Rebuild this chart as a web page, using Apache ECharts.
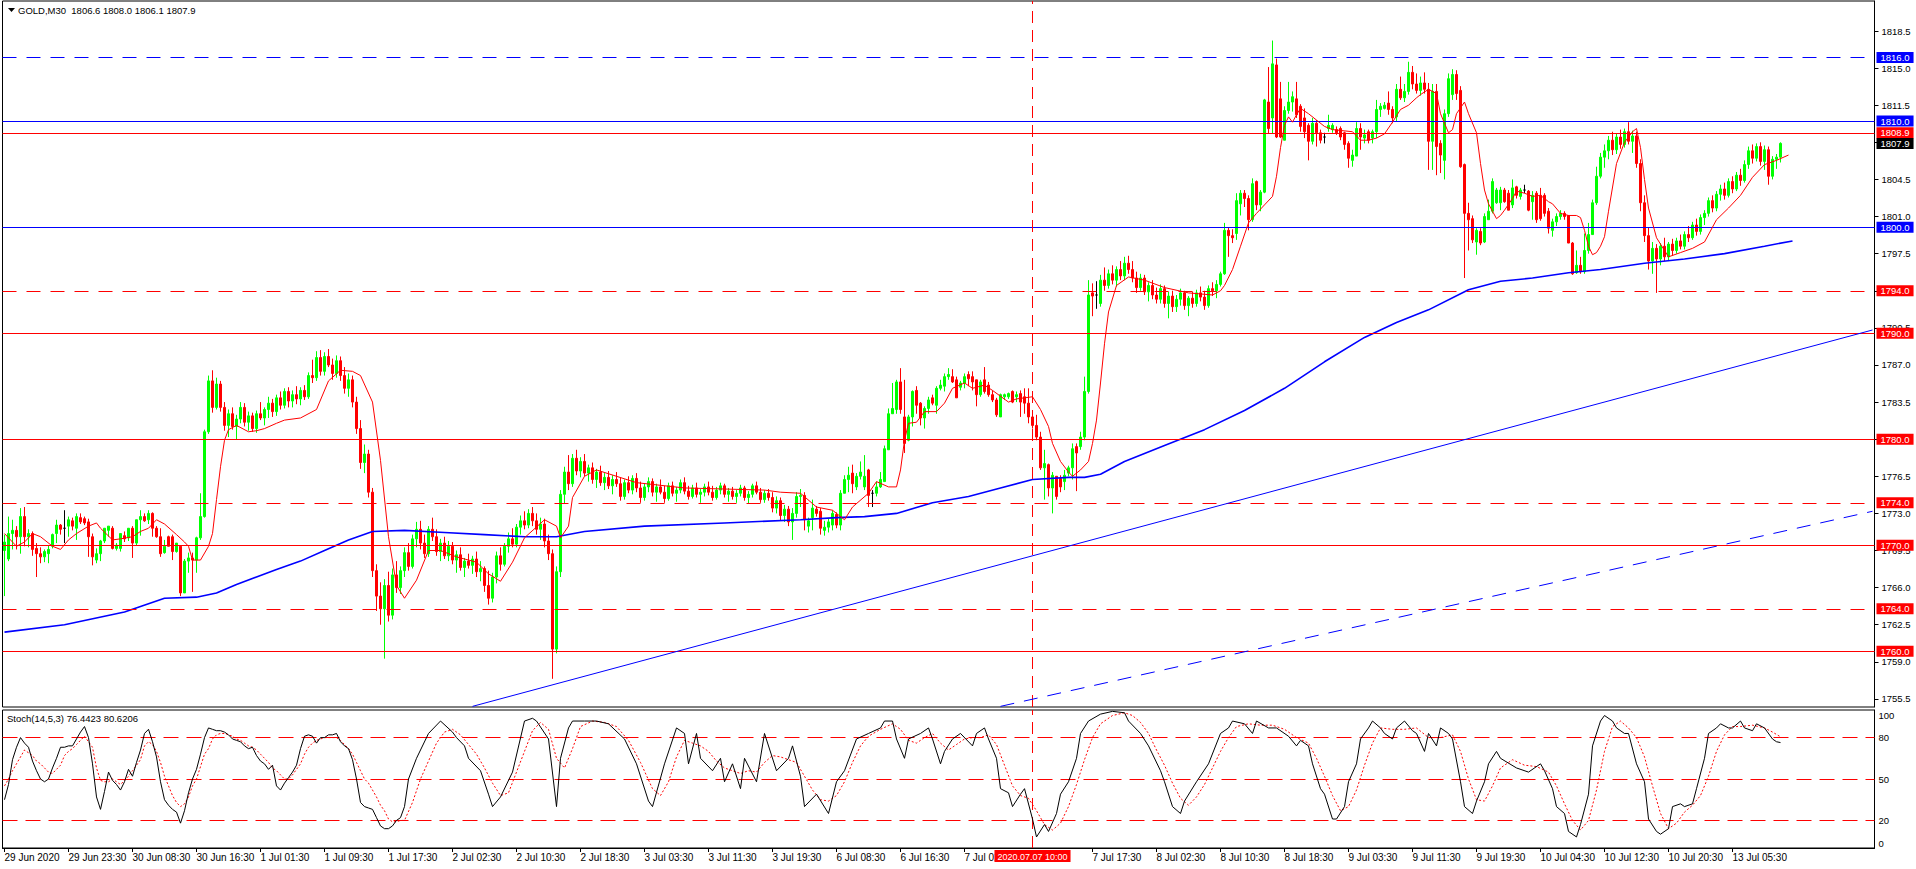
<!DOCTYPE html>
<html><head><meta charset="utf-8">
<script src="https://cdn.jsdelivr.net/npm/echarts@6/dist/echarts.min.js"></script>
<style>html,body{margin:0;padding:0;background:#fff;}#c{width:1916px;height:869px;}</style>
</head><body><div id="c"></div>
<script>
// ---------- DATA ----------
const symbolName = 'GOLD,M30';
const tickLabels = ['29 Jun 2020','29 Jun 23:30','30 Jun 08:30','30 Jun 16:30','1 Jul 01:30','1 Jul 09:30','1 Jul 17:30','2 Jul 02:30','2 Jul 10:30','2 Jul 18:30','3 Jul 03:30','3 Jul 11:30','3 Jul 19:30','6 Jul 08:30','6 Jul 16:30','7 Jul 01:30','','7 Jul 17:30','8 Jul 02:30','8 Jul 10:30','8 Jul 18:30','9 Jul 03:30','9 Jul 11:30','9 Jul 19:30','10 Jul 04:30','10 Jul 12:30','10 Jul 20:30','13 Jul 05:30'];
const priceTicks = [1818.5,1815.0,1811.5,1808.0,1804.5,1801.0,1797.5,1794.0,1790.5,1787.0,1783.5,1780.0,1776.5,1773.0,1769.5,1766.0,1762.5,1759.0,1755.5];
const stochTicks = [0,20,50,80,100];
const stochLevels = [80,50,20];
const blueLevels = [1816.0,1810.0,1800.0];
const redLevels = [1808.9,1794.0,1790.0,1780.0,1774.0,1770.0,1764.0,1760.0];
const lastPrice = 1807.9;
const markedBar = 257;
const markedBarLabel = '2020.07.07 10:00';
const trendSolid = [[117,1754.8],[467,1790.3]];
const trendDashed = [[249,1754.8],[467,1773.2]];
const stochTitle = 'Stoch(14,5,3) 76.4423 80.6206';
// candles: [open, high, low, close]
const candles = [
[1769.5,1771.0,1765.2,1770.3],[1768.7,1772.7,1768.5,1771.1],[1771.1,1772.4,1769.6,1771.4],[1771.4,1771.8,1769.6,1770.8],[1770.8,1773.5,1769.2,1772.7],
[1772.7,1773.6,1769.9,1770.8],[1770.8,1771.5,1769.8,1771.1],[1771.1,1771.3,1769.0,1769.6],[1769.7,1770.2,1767.0,1769.2],[1769.2,1769.8,1768.3,1768.9],
[1768.9,1769.6,1768.4,1769.4],[1769.2,1770.0,1768.3,1769.6],[1769.9,1771.1,1769.7,1771.0],[1771.1,1772.4,1770.2,1771.9],[1771.9,1772.0,1771.0,1771.5],
[1771.6,1773.3,1770.2,1771.6],[1771.8,1772.7,1770.8,1772.4],[1772.3,1772.6,1771.4,1771.8],[1771.6,1773.0,1770.5,1772.7],[1772.6,1773.0,1772.0,1772.2],
[1772.5,1772.7,1771.9,1772.1],[1772.2,1772.5,1768.9,1770.8],[1770.8,1771.1,1768.1,1768.9],[1768.6,1769.7,1768.3,1769.2],[1769.2,1770.5,1768.5,1770.4],
[1770.4,1771.6,1770.2,1771.6],[1771.4,1771.8,1770.8,1771.8],[1771.6,1771.8,1769.6,1769.7],[1769.7,1770.2,1769.5,1770.0],[1769.7,1771.1,1769.4,1771.1],
[1770.9,1771.3,1770.3,1770.6],[1770.7,1771.6,1770.4,1771.6],[1771.6,1771.8,1768.8,1770.2],[1770.2,1772.4,1770.0,1772.4],[1772.4,1773.3,1770.9,1772.7],
[1772.7,1773.0,1772.2,1772.3],[1772.4,1773.3,1772.0,1773.0],[1773.0,1773.1,1770.8,1771.6],[1771.6,1771.8,1770.7,1770.8],[1770.8,1771.6,1768.9,1769.2],
[1769.3,1770.5,1769.2,1769.9],[1770.8,1770.9,1769.9,1769.9],[1770.8,1771.0,1768.6,1769.4],[1769.4,1770.2,1769.3,1770.2],[1769.9,1770.0,1765.2,1765.5],
[1765.5,1768.7,1765.5,1768.5],[1768.5,1769.3,1767.4,1768.8],[1768.8,1769.3,1765.6,1768.6],[1768.6,1770.8,1767.4,1770.7],[1770.7,1774.9,1770.5,1772.7],
[1772.7,1780.9,1772.6,1780.7],[1780.7,1786.0,1780.5,1785.5],[1785.5,1786.5,1782.5,1783.0],[1783.0,1785.8,1782.8,1785.2],[1785.2,1785.5,1782.6,1783.0],
[1783.0,1783.5,1780.8,1781.3],[1781.3,1782.8,1780.2,1782.4],[1782.4,1783.0,1780.9,1781.2],[1781.2,1782.3,1780.0,1781.9],[1781.9,1783.5,1781.5,1783.0],
[1783.0,1783.4,1781.2,1781.6],[1781.6,1782.6,1780.8,1782.2],[1782.2,1782.5,1780.7,1781.0],[1781.0,1782.7,1780.6,1782.4],[1782.4,1783.5,1781.8,1782.0],
[1782.0,1783.0,1781.3,1782.8],[1782.8,1784.0,1782.0,1783.4],[1783.4,1783.8,1782.1,1782.6],[1782.6,1784.2,1782.2,1783.9],[1783.9,1784.5,1782.8,1783.2],
[1783.2,1784.8,1782.9,1784.5],[1784.5,1784.9,1783.0,1783.6],[1783.6,1784.6,1783.0,1784.2],[1784.2,1785.0,1783.3,1783.8],[1783.8,1784.9,1783.2,1784.6],
[1784.6,1785.1,1783.7,1784.0],[1784.0,1786.3,1783.8,1786.0],[1786.0,1787.5,1785.3,1785.8],[1785.8,1788.3,1785.5,1787.7],[1787.7,1788.4,1786.0,1786.4],
[1786.4,1788.2,1786.0,1787.8],[1787.8,1788.5,1786.8,1787.0],[1787.0,1787.6,1785.6,1786.2],[1786.2,1787.9,1785.8,1787.4],[1787.4,1787.8,1785.5,1786.0],
[1786.0,1786.8,1784.3,1784.8],[1784.8,1786.2,1784.0,1785.6],[1785.6,1786.0,1783.0,1783.5],[1783.5,1784.0,1780.5,1781.0],[1781.0,1781.8,1777.2,1777.8],
[1777.8,1779.5,1776.8,1778.6],[1778.6,1779.0,1774.5,1775.0],[1775.0,1775.4,1767.0,1767.6],[1767.6,1768.2,1763.8,1765.2],[1765.2,1766.5,1762.5,1764.0],
[1764.0,1766.8,1759.3,1766.2],[1766.2,1767.5,1762.8,1763.4],[1763.4,1767.8,1763.0,1767.2],[1767.2,1768.5,1765.5,1766.0],[1766.0,1768.0,1765.4,1767.6],
[1767.6,1769.8,1767.0,1769.3],[1769.3,1770.2,1767.6,1768.0],[1768.0,1771.0,1767.8,1770.6],[1770.6,1772.2,1769.8,1771.5],[1771.5,1772.3,1769.6,1770.2],
[1770.2,1771.0,1768.8,1769.2],[1769.2,1771.8,1768.9,1771.5],[1771.5,1772.6,1770.4,1770.8],[1770.8,1771.5,1769.0,1769.4],[1769.4,1770.6,1768.5,1770.2],
[1770.2,1770.8,1768.7,1769.0],[1769.0,1770.4,1768.5,1769.9],[1769.9,1770.3,1768.2,1768.6],[1768.6,1769.5,1767.4,1769.1],[1769.1,1769.8,1767.6,1767.9],
[1767.9,1768.8,1767.0,1768.5],[1768.5,1769.2,1767.8,1768.1],[1768.1,1769.0,1767.3,1768.7],[1768.7,1769.4,1767.0,1767.5],[1767.5,1768.5,1766.6,1767.8],
[1767.8,1768.0,1765.6,1766.2],[1766.2,1767.6,1764.4,1765.0],[1765.0,1767.4,1764.6,1767.0],[1767.0,1769.4,1766.4,1769.0],[1769.0,1769.8,1767.6,1768.2],
[1768.2,1770.2,1768.0,1769.9],[1769.9,1771.2,1769.3,1770.6],[1770.6,1771.6,1769.8,1770.1],[1770.1,1772.0,1769.8,1771.7],[1771.7,1772.8,1771.0,1772.3],
[1772.3,1773.2,1771.5,1771.9],[1771.9,1773.4,1771.6,1773.0],[1773.0,1773.6,1771.8,1772.3],[1772.3,1773.0,1771.0,1771.5],[1771.5,1772.6,1770.5,1772.0],
[1772.0,1772.5,1769.8,1770.4],[1770.4,1771.0,1768.6,1769.2],[1769.2,1769.6,1757.4,1760.2],[1760.2,1768.0,1759.8,1767.5],[1767.5,1775.2,1767.0,1774.8],
[1774.8,1777.4,1773.9,1776.9],[1776.9,1778.5,1775.2,1775.8],[1775.8,1778.6,1775.5,1778.2],[1778.2,1779.0,1776.6,1777.0],[1777.0,1778.3,1776.4,1777.9],
[1777.9,1778.6,1776.5,1776.8],[1776.8,1777.6,1776.0,1777.3],[1777.3,1777.8,1775.8,1776.2],[1776.2,1777.2,1775.4,1776.9],[1776.9,1777.5,1775.6,1775.9],
[1775.9,1776.8,1775.2,1776.4],[1776.4,1777.0,1775.3,1775.6],[1775.6,1776.6,1774.8,1776.2],[1776.2,1776.9,1775.5,1775.8],[1775.8,1776.4,1774.2,1774.6],
[1774.6,1776.2,1774.3,1775.9],[1775.9,1776.5,1774.9,1775.2],[1775.2,1776.6,1774.8,1776.3],[1776.3,1776.8,1775.0,1775.4],[1775.4,1776.0,1774.0,1774.5],
[1774.5,1775.8,1774.2,1775.5],[1775.5,1776.4,1775.0,1776.0],[1776.0,1776.3,1774.6,1775.0],[1775.0,1775.8,1774.1,1775.5],[1775.5,1776.2,1774.8,1775.0],
[1775.0,1775.6,1774.0,1774.4],[1774.4,1775.9,1774.2,1775.6],[1775.6,1776.0,1774.6,1774.9],[1774.9,1775.5,1774.1,1775.2],[1775.2,1776.2,1774.9,1775.9],
[1775.9,1776.4,1774.8,1775.1],[1775.1,1775.6,1774.3,1774.6],[1774.6,1775.7,1774.4,1775.4],[1775.4,1775.9,1774.5,1774.8],[1774.8,1775.3,1774.0,1775.0],
[1775.0,1775.8,1774.6,1775.5],[1775.5,1776.0,1774.7,1775.0],[1775.0,1775.6,1774.2,1774.5],[1774.5,1775.5,1774.3,1775.2],[1775.2,1775.9,1774.8,1775.6],
[1775.6,1775.8,1774.5,1774.8],[1774.8,1775.4,1774.1,1775.1],[1775.1,1775.5,1774.3,1774.6],[1774.6,1775.2,1774.0,1774.9],[1774.9,1775.7,1774.6,1775.4],
[1775.4,1775.6,1774.2,1774.5],[1774.5,1775.1,1773.9,1774.8],[1774.8,1775.8,1774.5,1775.6],[1775.6,1776.0,1774.8,1775.0],[1775.0,1775.4,1774.0,1774.3],
[1774.3,1775.2,1774.0,1774.9],[1774.9,1775.3,1774.2,1774.5],[1774.5,1775.0,1773.1,1773.5],[1773.5,1774.6,1773.0,1774.2],[1774.2,1774.5,1772.3,1772.8],
[1772.8,1773.8,1772.2,1773.4],[1773.4,1773.7,1771.8,1772.2],[1772.2,1773.5,1770.5,1773.0],[1773.0,1775.0,1772.6,1774.6],[1774.6,1775.3,1773.6,1774.7],
[1774.7,1775.0,1771.4,1772.4],[1771.8,1772.6,1771.2,1772.3],[1772.6,1774.3,1771.4,1773.5],[1773.4,1773.7,1772.7,1773.0],[1773.2,1773.5,1771.0,1771.6],
[1771.4,1772.3,1770.9,1771.7],[1771.7,1772.5,1771.2,1772.2],[1771.9,1773.3,1771.4,1773.0],[1772.9,1773.1,1771.6,1771.9],[1771.9,1775.2,1771.4,1774.9],
[1774.9,1776.6,1774.9,1776.2],[1776.2,1777.4,1775.0,1776.6],[1776.8,1777.6,1774.9,1775.8],[1775.5,1776.8,1775.2,1776.5],[1776.5,1777.9,1776.2,1776.9],
[1775.5,1778.5,1775.2,1776.5],[1777.1,1777.2,1773.6,1774.7],[1774.9,1775.2,1773.6,1774.9],[1774.9,1776.0,1774.6,1775.5],[1775.5,1776.9,1775.4,1776.2],
[1776.0,1779.4,1776.0,1779.1],[1779.0,1782.9,1779.0,1782.4],[1782.4,1785.3,1782.4,1782.9],[1782.8,1785.6,1782.4,1785.4],[1785.4,1786.7,1782.4,1782.8],
[1782.1,1785.6,1778.7,1779.6],[1779.9,1782.3,1779.8,1782.1],[1782.1,1784.6,1781.2,1784.5],[1784.6,1785.0,1782.4,1783.2],[1783.4,1783.5,1781.3,1782.0],
[1782.0,1783.1,1781.0,1782.9],[1782.9,1784.0,1782.4,1783.7],[1783.9,1784.2,1783.2,1783.4],[1783.2,1785.0,1782.4,1784.8],[1784.8,1785.6,1784.6,1785.1],
[1785.0,1786.2,1784.5,1785.9],[1785.9,1786.7,1785.6,1786.1],[1785.9,1786.6,1785.3,1785.4],[1785.6,1785.9,1783.9,1783.9],[1784.9,1785.5,1784.6,1785.3],
[1785.3,1786.2,1784.8,1785.9],[1786.1,1786.4,1785.0,1785.7],[1785.9,1786.4,1784.6,1785.4],[1785.6,1785.6,1783.1,1784.2],[1784.2,1785.6,1784.0,1785.4],
[1785.6,1786.8,1784.3,1784.5],[1785.1,1785.4,1784.0,1784.2],[1784.2,1784.6,1783.5,1783.7],[1783.7,1783.9,1782.1,1782.3],[1782.1,1784.3,1782.1,1784.2],
[1784.0,1784.3,1783.7,1784.2],[1784.0,1784.4,1783.8,1784.3],[1784.5,1784.6,1783.4,1783.5],[1784.0,1784.5,1783.5,1784.2],[1784.3,1784.6,1782.1,1783.5],
[1784.0,1784.8,1782.4,1783.4],[1783.4,1784.8,1781.5,1782.1],[1782.1,1782.4,1781.0,1781.3],[1781.3,1782.3,1779.9,1780.2],[1780.2,1780.7,1777.1,1777.3],
[1777.3,1779.0,1774.3,1777.7],[1777.6,1777.7,1774.6,1775.4],[1775.4,1776.9,1773.0,1776.6],[1776.5,1776.5,1774.3,1774.6],[1776.3,1776.6,1775.0,1775.5],
[1776.0,1777.1,1775.2,1776.6],[1776.8,1777.5,1776.5,1777.3],[1777.3,1779.6,1776.2,1779.1],[1779.3,1779.6,1775.1,1778.7],[1779.3,1780.7,1779.0,1780.2],
[1780.2,1785.9,1779.9,1784.5],[1784.5,1795.0,1784.3,1793.6],[1793.8,1794.7,1791.6,1793.5],[1793.6,1794.9,1792.3,1793.6],[1792.8,1795.5,1792.5,1795.0],
[1795.0,1796.2,1794.0,1794.5],[1794.5,1796.0,1794.2,1795.6],[1795.6,1796.4,1794.6,1795.0],[1795.0,1796.3,1794.4,1796.0],[1796.0,1796.8,1795.0,1795.4],
[1795.4,1797.2,1795.0,1796.6],[1796.6,1797.3,1795.6,1796.0],[1796.0,1796.8,1794.8,1795.2],[1795.2,1795.8,1793.8,1794.3],[1794.3,1795.6,1794.0,1795.2],
[1795.2,1795.5,1793.6,1793.9],[1793.9,1794.8,1793.0,1794.5],[1794.5,1795.0,1793.2,1793.6],[1793.6,1794.3,1792.8,1793.2],[1793.2,1794.6,1792.8,1794.2],
[1794.2,1794.5,1792.4,1792.8],[1792.8,1793.9,1791.4,1793.5],[1793.5,1794.0,1792.0,1792.5],[1792.5,1793.6,1792.0,1793.2],[1793.2,1794.2,1792.6,1793.8],
[1793.8,1794.0,1792.2,1792.6],[1792.6,1793.5,1791.6,1793.3],[1793.3,1793.9,1792.4,1792.8],[1792.8,1794.1,1792.5,1793.8],[1793.8,1794.4,1793.0,1793.4],
[1793.4,1794.0,1792.2,1792.6],[1792.6,1794.5,1792.4,1794.2],[1794.2,1794.8,1793.5,1794.0],[1794.0,1795.0,1793.3,1794.6],[1794.6,1795.8,1794.4,1795.6],
[1795.6,1800.4,1795.5,1799.7],[1799.7,1800.0,1797.2,1799.2],[1799.2,1799.8,1798.5,1799.0],[1799.4,1803.2,1798.8,1802.5],[1802.2,1803.5,1801.1,1803.2],
[1803.2,1803.5,1801.9,1802.7],[1802.7,1803.0,1799.7,1800.7],[1800.7,1804.6,1800.5,1804.1],[1804.3,1804.4,1801.6,1802.1],[1802.1,1803.5,1801.5,1803.3],
[1803.3,1812.1,1803.2,1812.0],[1811.8,1815.1,1808.8,1809.3],[1810.3,1817.6,1808.8,1815.4],[1815.3,1815.9,1808.4,1808.5],[1812.1,1813.7,1808.4,1808.5],
[1808.2,1811.4,1808.2,1811.0],[1811.0,1813.7,1810.7,1811.8],[1811.8,1812.8,1810.9,1812.3],[1812.1,1813.7,1810.3,1810.6],[1811.4,1811.6,1809.0,1809.5],
[1810.3,1811.2,1808.4,1809.0],[1809.6,1809.8,1806.3,1808.1],[1808.1,1810.3,1807.8,1809.8],[1809.8,1810.1,1807.6,1808.9],[1808.9,1809.2,1807.9,1808.2],
[1808.5,1808.9,1807.9,1808.5],[1809.3,1810.6,1809.0,1809.6],[1809.2,1809.8,1808.9,1809.6],[1809.2,1809.5,1808.7,1808.9],[1809.3,1809.5,1808.2,1808.5],
[1808.9,1809.0,1807.3,1807.8],[1807.9,1808.1,1805.6,1806.5],[1806.3,1807.3,1805.7,1806.8],[1806.7,1809.9,1806.7,1809.3],[1809.3,1809.8,1807.3,1808.5],
[1808.4,1809.2,1807.9,1808.7],[1809.0,1809.2,1807.9,1808.2],[1808.4,1809.2,1807.9,1809.0],[1809.0,1812.0,1808.4,1811.1],[1811.1,1811.7,1810.4,1811.4],
[1811.2,1811.8,1811.1,1811.5],[1811.7,1812.8,1810.6,1811.1],[1811.1,1811.4,1809.8,1810.3],[1810.4,1813.5,1810.0,1813.0],[1813.0,1814.2,1812.0,1812.2],
[1812.2,1813.5,1811.8,1812.8],[1812.8,1815.6,1812.5,1814.6],[1814.6,1815.2,1813.0,1813.5],[1813.5,1814.5,1812.6,1812.9],[1812.9,1814.2,1812.4,1813.6],
[1813.6,1814.6,1812.6,1813.0],[1813.0,1813.6,1805.4,1808.1],[1808.1,1813.5,1805.4,1812.8],[1812.8,1813.5,1804.9,1807.6],[1807.9,1808.2,1805.1,1806.8],
[1806.3,1811.1,1804.5,1810.7],[1810.7,1814.5,1810.4,1814.0],[1812.5,1814.9,1812.0,1814.4],[1814.4,1814.8,1812.0,1812.6],[1812.9,1813.3,1805.6,1805.7],
[1805.9,1806.0,1795.2,1801.3],[1801.3,1802.3,1797.8,1800.7],[1800.8,1801.1,1798.5,1798.8],[1798.6,1799.9,1797.4,1799.7],[1799.6,1799.9,1798.3,1798.5],
[1798.6,1801.3,1798.5,1801.0],[1800.7,1802.6,1800.7,1801.5],[1801.5,1804.6,1801.3,1804.3],[1802.3,1803.7,1802.2,1803.5],[1802.3,1803.8,1801.6,1803.5],
[1803.5,1803.7,1802.3,1802.4],[1803.2,1803.5,1801.6,1801.6],[1802.1,1804.5,1801.8,1803.7],[1803.8,1803.9,1802.7,1803.0],[1802.9,1803.7,1802.6,1803.5],
[1803.5,1804.0,1803.2,1803.5],[1803.4,1803.5,1801.5,1801.6],[1802.4,1803.4,1800.7,1803.0],[1803.2,1803.4,1800.4,1800.7],[1803.0,1803.7,1800.6,1800.8],
[1803.0,1803.2,1801.0,1801.3],[1801.5,1801.8,1799.4,1799.9],[1799.7,1800.8,1799.1,1800.5],[1800.5,1801.3,1800.1,1801.0],[1801.0,1801.6,1800.7,1801.3],
[1801.3,1801.5,1800.7,1801.0],[1801.1,1801.1,1798.5,1798.5],[1798.5,1798.6,1795.5,1795.6],[1795.7,1797.8,1795.6,1796.4],[1796.4,1797.2,1795.6,1795.8],
[1795.8,1799.4,1795.6,1797.8],[1797.8,1800.4,1797.5,1799.3],[1799.3,1802.6,1799.3,1802.3],[1802.3,1805.7,1802.1,1804.8],[1804.8,1807.0,1804.6,1806.6],
[1806.6,1807.8,1805.6,1807.2],[1807.2,1808.6,1806.4,1808.2],[1808.2,1809.0,1806.8,1807.3],[1807.3,1808.8,1806.9,1808.5],[1808.5,1809.2,1807.4,1807.8],
[1807.8,1809.3,1807.5,1809.0],[1809.0,1809.9,1807.8,1808.1],[1808.1,1809.1,1807.0,1808.6],[1808.6,1809.0,1805.6,1806.0],[1806.0,1806.4,1801.5,1802.3],
[1802.3,1803.0,1798.6,1799.2],[1799.2,1800.0,1796.0,1796.8],[1796.8,1798.6,1795.6,1798.0],[1798.0,1798.4,1793.8,1797.0],[1797.0,1798.5,1796.4,1798.2],
[1798.2,1799.0,1796.8,1797.2],[1797.2,1798.6,1796.8,1798.4],[1798.4,1798.9,1797.3,1797.8],[1797.8,1799.0,1797.5,1798.7],[1798.7,1799.3,1797.9,1798.2],
[1798.2,1799.6,1797.9,1799.3],[1799.3,1800.1,1798.6,1799.0],[1799.0,1800.5,1798.8,1800.2],[1800.2,1800.8,1799.2,1799.6],[1799.6,1801.2,1799.3,1800.9],
[1800.9,1801.6,1800.2,1801.3],[1801.3,1802.8,1801.0,1802.5],[1802.5,1803.0,1801.4,1801.8],[1801.8,1803.4,1801.5,1803.1],[1803.1,1804.0,1802.5,1803.6],
[1803.6,1804.2,1802.6,1803.0],[1803.0,1804.6,1802.8,1804.3],[1804.3,1804.8,1803.2,1803.6],[1803.6,1805.2,1803.4,1804.9],[1804.9,1805.5,1803.9,1804.4],
[1804.4,1806.3,1804.2,1805.9],[1805.9,1807.6,1805.5,1807.2],[1807.2,1807.8,1806.0,1806.5],[1806.5,1807.9,1806.2,1807.6],[1807.6,1808.0,1805.8,1806.2],
[1806.2,1807.7,1805.4,1807.3],[1807.3,1807.6,1804.0,1804.8],[1804.8,1806.7,1804.5,1806.4],[1806.4,1806.9,1805.5,1806.6],[1806.6,1808.0,1806.1,1807.9]
];
// fast moving average (red), [bar, value]
const maFast = [[0,1771.1],[3,1769.9],[5,1770.3],[7,1771.1],[9,1770.8],[12,1769.9],[14,1769.6],[16,1770.5],[18,1771.1],[21,1771.8],[23,1772.1],[24,1771.6],[27,1770.5],[29,1770.6],[32,1770.8],[34,1771.3],[36,1771.6],[38,1772.4],[40,1772.0],[43,1771.0],[45,1770.3],[46,1769.9],[47,1768.6],[49,1768.6],[51,1769.9],[52,1771.1],[53,1774.3],[54,1777.4],[55,1779.9],[56,1780.9],[58,1781.3],[61,1780.7],[63,1780.8],[65,1781.0],[68,1781.5],[70,1781.8],[74,1782.0],[78,1782.8],[81,1785.5],[84,1786.5],[87,1786.4],[89,1786.0],[92,1783.5],[94,1778.0],[96,1770.8],[98,1766.2],[100,1765.0],[103,1766.7],[106,1769.5],[109,1769.5],[113,1768.9],[118,1768.4],[121,1767.3],[124,1766.6],[127,1768.4],[130,1770.7],[135,1772.4],[138,1771.8],[139,1770.7],[141,1771.8],[142,1774.5],[145,1776.5],[148,1777.1],[158,1775.9],[170,1775.4],[180,1775.3],[190,1775.2],[194,1775.0],[199,1774.9],[203,1773.6],[207,1773.3],[210,1772.4],[212,1773.6],[216,1774.9],[218,1776.0],[221,1775.5],[223,1775.5],[224,1777.1],[225,1779.9],[226,1781.5],[228,1781.6],[230,1782.6],[233,1782.6],[235,1783.4],[237,1784.8],[240,1785.3],[242,1784.8],[245,1785.1],[247,1784.6],[251,1783.5],[253,1783.8],[257,1784.0],[259,1782.8],[261,1781.2],[262,1779.6],[264,1777.9],[266,1776.9],[267,1776.5],[269,1777.1],[271,1777.9],[272,1779.6],[273,1781.8],[274,1785.3],[275,1789.0],[276,1792.0],[278,1794.5],[281,1795.3],[285,1795.0],[290,1794.3],[296,1793.8],[302,1793.6],[304,1794.0],[305,1794.5],[307,1796.0],[309,1798.2],[311,1800.4],[313,1801.3],[315,1802.1],[317,1802.9],[318,1804.8],[319,1807.5],[320,1809.6],[321,1810.4],[322,1809.9],[323,1810.6],[324,1811.2],[326,1810.7],[328,1810.1],[330,1809.5],[332,1809.2],[337,1809.0],[339,1808.2],[341,1808.2],[343,1808.4],[345,1808.8],[347,1809.9],[349,1811.1],[351,1811.5],[353,1812.2],[354,1812.5],[356,1813.0],[358,1812.6],[359,1810.7],[361,1808.9],[362,1809.2],[363,1810.7],[365,1811.8],[366,1810.7],[368,1808.9],[369,1806.0],[370,1803.5],[371,1802.2],[372,1801.5],[373,1800.8],[374,1801.1],[375,1801.6],[377,1802.7],[378,1803.4],[380,1803.2],[382,1802.9],[384,1803.0],[386,1802.4],[387,1802.2],[389,1801.3],[391,1801.1],[393,1801.1],[394,1800.9],[395,1799.7],[396,1798.2],[397,1797.4],[398,1797.6],[399,1798.2],[400,1799.1],[401,1801.5],[403,1806.0],[405,1808.0],[407,1809.0],[408,1809.3],[409,1807.5],[410,1804.5],[411,1801.8],[413,1799.0],[416,1797.2],[419,1797.6],[422,1798.0],[425,1798.6],[428,1800.7],[431,1801.8],[434,1803.0],[437,1804.7],[440,1805.9],[443,1806.3],[446,1806.8]];
// slow moving average (blue), [bar, value]
const maSlow = [[0,1761.8],[15,1762.5],[30,1763.7],[40,1765.0],[48,1765.1],[53,1765.5],[58,1766.3],[63,1767.0],[68,1767.7],[74,1768.5],[80,1769.5],[86,1770.5],[92,1771.3],[100,1771.4],[110,1771.2],[120,1771.0],[130,1770.8],[138,1770.8],[145,1771.3],[160,1771.8],[180,1772.1],[199,1772.4],[208,1772.6],[215,1772.7],[223,1773.0],[232,1774.0],[241,1774.6],[249,1775.4],[257,1776.2],[266,1776.4],[270,1776.4],[274,1776.7],[280,1777.9],[290,1779.4],[300,1780.9],[310,1782.7],[320,1784.8],[330,1787.3],[340,1789.6],[348,1791.0],[356,1792.2],[366,1794.1],[374,1794.9],[382,1795.2],[391,1795.7],[399,1796.0],[410,1796.6],[420,1797.0],[430,1797.5],[440,1798.2],[447,1798.7]];
// stochastic %K (black) and %D (red dotted), [bar, value]
const stochK = [[0,35],[1,46],[2,64],[3,73],[4,80],[5,76],[6,73],[7,63],[8,56],[9,50],[10,48],[11,50],[12,58],[13,65],[14,73],[15,73],[16,74],[17,74],[18,79],[19,84],[20,88],[21,80],[22,61],[23,37],[24,28],[25,41],[26,55],[27,49],[28,46],[29,42],[30,48],[31,57],[32,52],[33,62],[34,71],[35,83],[36,86],[37,77],[38,66],[39,48],[40,35],[41,31],[42,28],[43,26],[44,18],[45,27],[46,40],[47,50],[48,57],[49,68],[50,80],[51,87],[52,86],[53,85],[54,85],[55,84],[56,82],[57,79],[58,78],[59,77],[60,74],[61,72],[62,73],[63,67],[64,63],[65,61],[66,57],[67,60],[68,45],[69,42],[70,47],[71,51],[72,55],[73,60],[74,72],[75,81],[76,82],[77,81],[78,76],[79,80],[80,80],[81,82],[82,82],[83,83],[84,77],[85,74],[86,72],[87,64],[88,50],[89,33],[90,30],[91,29],[92,28],[93,22],[94,16],[95,14],[96,14],[97,16],[98,20],[99,22],[100,30],[101,50],[103,65],[106,83],[109,92],[112,84],[113,80],[115,74],[116,65],[119,56],[121,39],[122,30],[124,37],[127,55],[130,92],[132,94],[133,92],[136,79],[138,30],[139,65],[141,87],[142,92],[145,92],[148,92],[151,90],[155,79],[158,61],[161,34],[162,30],[165,61],[168,87],[170,83],[171,61],[173,83],[174,65],[177,56],[179,65],[180,48],[182,61],[184,43],[185,65],[188,48],[190,83],[193,56],[196,65],[197,74],[199,52],[200,30],[203,39],[206,25],[208,48],[210,56],[213,79],[216,83],[219,87],[220,92],[222,92],[223,79],[225,65],[226,79],[229,83],[231,87],[232,79],[234,61],[235,70],[237,79],[239,83],[242,74],[243,83],[245,87],[246,79],[248,65],[249,43],[251,40],[252,30],[254,39],[255,43],[257,21],[258,8],[260,17],[261,12],[263,25],[264,39],[266,48],[268,65],[269,83],[271,92],[274,97],[277,99],[280,98],[281,92],[284,83],[286,74],[289,56],[290,48],[292,30],[294,25],[295,34],[298,48],[301,61],[304,83],[306,87],[307,92],[310,90],[312,83],[313,92],[316,87],[318,87],[321,81],[323,74],[324,78],[326,74],[327,61],[329,43],[330,39],[332,21],[333,21],[335,30],[336,48],[338,61],[339,79],[341,87],[342,92],[344,87],[345,83],[347,79],[348,87],[350,92],[352,85],[353,83],[355,70],[356,83],[358,74],[359,87],[361,83],[362,79],[364,48],[365,30],[367,25],[368,34],[370,48],[371,61],[373,70],[374,65],[378,58],[381,55],[384,61],[385,56],[387,43],[388,30],[390,25],[391,12],[393,8],[394,17],[396,39],[397,74],[399,92],[400,96],[402,92],[403,87],[405,83],[406,83],[408,61],[410,48],[411,21],[413,12],[414,10],[416,14],[417,30],[419,32],[420,30],[422,32],[423,43],[425,65],[426,83],[428,87],[429,90],[431,87],[432,87],[434,92],[435,87],[437,85],[438,90],[440,87],[442,79],[443,77],[444,76.4]];
const stochD = [[0,45],[1,50],[2,56],[3,61],[4,66],[5,71],[6,69],[7,67],[8,63],[9,61],[10,58],[11,55],[12,54],[13,57],[14,60],[15,67],[16,70],[17,72],[18,75],[19,78],[20,81],[21,77],[22,73],[23,58],[24,49],[25,48],[26,48],[27,50],[28,48],[29,46],[30,49],[31,52],[32,56],[33,60],[34,64],[35,74],[36,77],[37,75],[38,70],[39,62],[40,52],[41,45],[42,38],[43,33],[44,30],[45,32],[46,37],[47,45],[48,50],[49,59],[50,68],[51,72],[52,79],[53,82],[54,83],[55,83],[56,82],[57,81],[58,79],[59,78],[60,76],[61,74],[62,73],[63,71],[64,68],[65,65],[66,62],[67,58],[68,56],[69,53],[70,50],[71,50],[72,53],[73,57],[74,61],[75,68],[76,73],[77,76],[78,78],[79,79],[80,80],[81,80],[82,80],[83,80],[84,78],[85,75],[86,72],[87,68],[88,62],[89,56],[90,50],[91,47],[92,42],[93,37],[94,31],[95,27],[96,21],[97,19],[98,19],[99,20],[100,20],[102,33],[104,50],[106,63],[108,76],[110,84],[112,86],[114,82],[116,75],[118,68],[120,58],[122,47],[124,38],[126,40],[128,55],[130,70],[132,85],[134,91],[136,86],[138,65],[140,58],[142,72],[144,88],[147,92],[150,91],[153,88],[156,78],[159,62],[162,43],[164,38],[166,48],[168,66],[170,78],[172,76],[174,74],[176,70],[178,63],[180,58],[182,56],[184,54],[186,56],[188,55],[190,62],[192,67],[194,66],[196,64],[198,62],[200,52],[202,42],[204,35],[206,34],[208,38],[210,48],[212,62],[214,74],[216,81],[219,86],[222,90],[224,86],[226,78],[228,76],[230,80],[232,83],[234,76],[236,71],[238,75],[240,79],[242,80],[244,80],[246,82],[248,75],[250,60],[252,45],[254,38],[256,36],[258,27],[260,17],[262,13],[264,18],[266,30],[268,46],[270,64],[272,80],[274,90],[277,96],[280,98],[282,96],[284,91],[286,83],[288,71],[290,60],[292,47],[294,36],[296,31],[298,37],[300,46],[302,58],[304,70],[306,80],[308,88],[311,90],[314,89],[317,89],[320,86],[323,80],[326,76],[328,65],[330,52],[332,38],[334,27],[336,30],[338,42],[340,60],[342,76],[344,87],[347,86],[350,86],[353,87],[356,80],[359,80],[362,82],[364,70],[366,50],[368,35],[370,34],[372,45],[374,58],[377,64],[380,60],[383,59],[386,55],[388,45],[390,32],[392,20],[394,13],[396,20],[398,42],[400,70],[402,88],[404,92],[406,87],[408,80],[410,66],[412,45],[414,25],[416,14],[418,18],[420,26],[422,31],[424,38],[426,52],[428,70],[430,82],[432,88],[434,88],[437,89],[440,87],[442,84],[444,80.6]];

// ---------- CHART ----------
const SLOTS = 468;
const cats = Array.from({length: SLOTS}, (_, i) => i);
const FONT = 'Liberation Sans';
const RED = '#ff0000', BLUE = '#0000ff', GREEN = '#00ff00';
const DASH = [14, 10];
const showTick = (i) => i % 16 === 0 && (i / 16) < tickLabels.length && tickLabels[i / 16] !== '';
const last = candles[candles.length - 1];
const tag = (bg) => ({show: true, position: 'end', distance: 2, formatter: p => p.value.toFixed(1), backgroundColor: bg, color: '#fff', padding: [1, 4, 0, 4], fontSize: 9.5, lineHeight: 10, fontFamily: FONT});
const levelLines = [];
blueLevels.forEach(v => levelLines.push({yAxis: v, lineStyle: {color: BLUE, width: 1, type: v === 1816.0 ? DASH : 'solid'}, label: tag(BLUE)}));
redLevels.forEach(v => levelLines.push({yAxis: v, lineStyle: {color: RED, width: 1, type: [1794.0, 1774.0, 1764.0].includes(v) ? DASH : 'solid'}, label: tag(RED)}));
levelLines.push({yAxis: lastPrice, lineStyle: {color: 'rgba(0,0,0,0)', width: 0}, label: tag('#000000')});
levelLines.push({xAxis: markedBar, lineStyle: {color: RED, width: 1, type: [12, 7]}, label: {show: false}});
levelLines.push([{coord: trendSolid[0], lineStyle: {color: BLUE, width: 1, type: 'solid'}, label: {show: false}}, {coord: trendSolid[1]}]);
levelLines.push([{coord: trendDashed[0], lineStyle: {color: BLUE, width: 1, type: DASH}, label: {show: false}}, {coord: trendDashed[1]}]);

const stochLines = stochLevels.map(v => ({yAxis: v, lineStyle: {color: RED, width: 1, type: [15, 8]}, label: {show: false}}));
stochLines.push({xAxis: markedBar, lineStyle: {color: RED, width: 1, type: [12, 7]},
  label: {show: true, position: 'start', distance: 2, formatter: markedBarLabel, backgroundColor: RED, color: '#fff', padding: [2, 3, 1, 3], fontSize: 9, fontFamily: FONT}});

const chart = echarts.init(document.getElementById('c'), null, {renderer: 'svg', width: 1916, height: 869});
chart.setOption({
  animation: false,
  backgroundColor: '#ffffff',
  textStyle: {fontFamily: FONT},
  grid: [
    {left: 2.5, top: 1, width: 1872, height: 706, show: true, borderColor: '#000', borderWidth: 1, backgroundColor: '#fff'},
    {left: 2.5, top: 710, width: 1872, height: 138, show: true, borderColor: '#000', borderWidth: 1, backgroundColor: '#fff'}
  ],
  xAxis: [
    {type: 'category', gridIndex: 0, data: cats, boundaryGap: true, axisLine: {show: false}, axisTick: {show: false}, axisLabel: {show: false}, splitLine: {show: false}},
    {type: 'category', gridIndex: 1, data: cats, boundaryGap: true,
      axisLine: {show: true, lineStyle: {color: '#000', width: 1}},
      axisTick: {show: true, alignWithLabel: true, interval: showTick, length: 4, lineStyle: {color: '#000'}},
      axisLabel: {interval: showTick, formatter: (v, i) => tickLabels[i / 16] || '', align: 'left', color: '#000', fontSize: 10, margin: 4, fontFamily: FONT},
      splitLine: {show: false}}
  ],
  yAxis: [
    {type: 'value', gridIndex: 0, position: 'right', min: 1754.74, max: 1821.33, splitLine: {show: false},
      axisLine: {show: true, lineStyle: {color: '#000'}},
      axisTick: {show: true, length: 4, customValues: priceTicks, lineStyle: {color: '#000'}},
      axisLabel: {customValues: priceTicks, formatter: v => v.toFixed(1), color: '#000', fontSize: 9.5, margin: 7, fontFamily: FONT}},
    {type: 'value', gridIndex: 1, position: 'right', min: 0, max: 100, splitLine: {show: false},
      axisLine: {show: true, lineStyle: {color: '#000'}},
      axisTick: {show: false},
      axisLabel: {customValues: stochTicks, color: '#000', fontSize: 9.5, margin: 4, fontFamily: FONT, verticalAlignMinLabel: 'bottom', verticalAlignMaxLabel: 'top'}}
  ],
  graphic: [
    {type: 'polygon', shape: {points: [[8, 8], [15, 8], [11.5, 12]]}, style: {fill: '#000'}},
    {type: 'text', left: 18, top: 5, style: {text: symbolName + '  ' + last.map(v => v.toFixed(1)).join(' '), font: '9.5px "Liberation Sans"', fill: '#000'}},
    {type: 'text', left: 7, top: 713, style: {text: stochTitle, font: '9.5px "Liberation Sans"', fill: '#000'}, z: 100}
  ],
  series: [
    {type: 'candlestick', xAxisIndex: 0, yAxisIndex: 0, barWidth: 2, z: 3,
      data: candles.map(r => [r[0], r[3], r[2], r[1]]),
      itemStyle: {color: GREEN, color0: RED, borderColor: GREEN, borderColor0: RED, borderColorDoji: '#000', borderWidth: 1},
      markLine: {symbol: ['none', 'none'], silent: true, animation: false, precision: 1, data: levelLines}},
    {type: 'line', xAxisIndex: 0, yAxisIndex: 0, data: maSlow, symbol: 'none', lineStyle: {color: BLUE, width: 1.6}, z: 4},
    {type: 'line', xAxisIndex: 0, yAxisIndex: 0, data: maFast, symbol: 'none', lineStyle: {color: RED, width: 1}, z: 5},
    {type: 'line', xAxisIndex: 1, yAxisIndex: 1, data: stochD, symbol: 'none', lineStyle: {color: RED, width: 1, type: [2, 2]}, z: 4},
    {type: 'line', xAxisIndex: 1, yAxisIndex: 1, data: stochK, symbol: 'none', lineStyle: {color: '#000', width: 1}, z: 5,
      markLine: {symbol: ['none', 'none'], silent: true, animation: false, data: stochLines}}
  ]
});
</script></body></html>
